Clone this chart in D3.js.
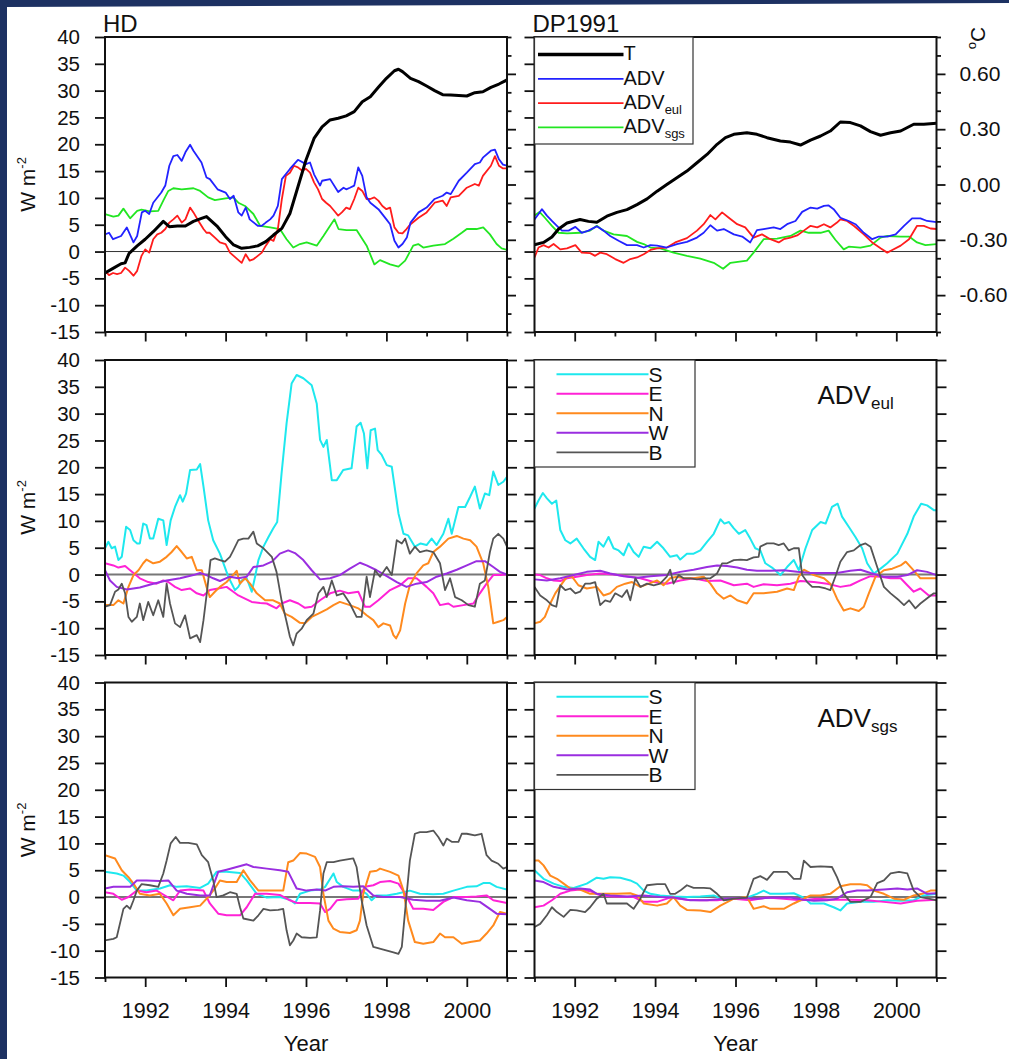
<!DOCTYPE html>
<html>
<head>
<meta charset="utf-8">
<script src="https://cdn.jsdelivr.net/npm/d3@7"></script>
<style>
  html, body { margin: 0; padding: 0; background: #fff; }
  svg { display: block; font-family: "Liberation Sans", Arial, Helvetica, sans-serif; }
</style>
</head>
<body>
<svg id="chart" width="1009" height="1059"></svg>
<script>
// ---------------------------------------------------------------------------
// Heat-budget terms, 1991-2001. Each series is a list of
// [months since January 1991, value]; fluxes in W m-2, T in degC.
// ---------------------------------------------------------------------------
const startYear = 1991;

// HD run: temperature and total / eulerian / sub-grid advection
const hdT = [[0,-0.48],[2.4,-0.455],[4.8,-0.43],[6,-0.425],[7.2,-0.373],[9.6,-0.333],[12,-0.297],[14.4,-0.256],[17.4,-0.20],[19.2,-0.229],[21.6,-0.225],[24,-0.225],[26.4,-0.20],[28.8,-0.184],[30.3,-0.174],[33.6,-0.229],[36,-0.283],[38.4,-0.328],[40.8,-0.346],[43.2,-0.341],[45.6,-0.333],[48,-0.31],[50.3,-0.274],[52.8,-0.238],[55.2,-0.157],[57.6,-0.012],[60,0.133],[62.4,0.25],[64.8,0.313],[67.2,0.35],[69.6,0.359],[72,0.372],[74.4,0.395],[76.8,0.449],[79.2,0.476],[81.6,0.527],[84,0.576],[86.4,0.617],[87.6,0.625],[88.8,0.612],[91.2,0.576],[93.6,0.558],[96,0.534],[98.4,0.509],[100.8,0.487],[103.2,0.485],[108,0.48],[110.4,0.498],[112.8,0.503],[115.2,0.527],[117.6,0.545],[120,0.567]];
const hdAdv = [[0,3.2],[1.2,3.5],[2.4,2.3],[4.8,2.9],[6.5,4.5],[8.5,1.7],[9.6,2.9],[11,7.3],[12,7.6],[13.2,7.0],[14.4,9.1],[16.8,11.0],[18,12.3],[19.2,16.0],[20.4,17.8],[21.6,18.0],[22.9,16.9],[24,18.5],[25.4,19.9],[26.4,18.8],[28.8,16.6],[30.3,13.8],[31.3,13.5],[33.6,11.6],[36,11.0],[37.3,9.8],[38.4,10.4],[39.8,7.3],[40.8,6.7],[42,8.2],[43.2,6.0],[45.6,4.8],[46.8,4.8],[48,5.4],[49.3,6.0],[50.3,6.7],[51.6,8.5],[52.8,13.5],[55.2,15.4],[57.6,17.1],[60,16.3],[61.2,16.6],[62.4,14.4],[64.2,12.3],[64.8,13.2],[67.2,13.5],[69.6,11.1],[71.2,11.9],[72,11.6],[73.1,11.9],[74.4,12.3],[75.6,15.7],[76.8,14.1],[78.1,10.1],[79.2,9.1],[81.6,7.9],[84,6.0],[85.1,5.1],[86.4,2.0],[87.6,0.75],[88.8,1.4],[90.1,2.6],[91.2,5.4],[93.6,7.3],[96,8.2],[98.4,9.8],[100.8,10.4],[102,11.0],[103.2,10.7],[105.6,13.2],[108,14.7],[110.4,16.3],[111.9,16.6],[112.8,17.5],[115.2,18.8],[116.4,19.0],[117.6,17.2],[118.8,16.2],[120,16.0]];
const hdEul = [[0,-3.6],[1.2,-4.4],[2.4,-4.0],[3.6,-4.2],[4.8,-4.0],[6,-3.0],[7.2,-3.6],[8.5,-4.5],[9.6,-3.6],[10.9,-0.8],[12,0.4],[13.2,-0.2],[14.4,2.3],[15.6,3.2],[16.8,3.5],[18,4.2],[19.2,5.4],[20.4,6.0],[21.6,6.7],[22.9,5.4],[24,6.0],[25.4,8.2],[26.4,7.3],[27.9,5.7],[29.4,4.2],[30.3,3.5],[31.2,3.5],[32.8,2.6],[34.3,1.7],[36,1.4],[37.3,-0.2],[38.4,-0.8],[39.5,-1.4],[40.8,-2.1],[42,-0.5],[43.2,-1.7],[44.4,-1.4],[45.6,-0.8],[46.8,-0.2],[48,1.1],[49.3,2.3],[50.3,2.0],[51.6,4.2],[52.8,9.8],[54,14.1],[55.2,14.7],[56.4,16.0],[57.6,15.7],[58.8,15.1],[60,15.4],[61.2,14.7],[62.4,12.9],[63.6,11.6],[64.8,9.8],[66,9.1],[67.2,8.5],[68.4,7.6],[69.6,6.7],[70.7,7.3],[72,8.2],[73.1,7.9],[74.4,9.8],[75.6,11.9],[76.8,11.3],[78.1,9.8],[79.2,9.8],[80.4,10.1],[81.6,9.5],[82.8,8.5],[84,7.9],[85.1,8.2],[86.4,4.5],[87.6,3.5],[88.8,3.4],[90,4.2],[91.2,5.1],[93.6,6.3],[96,7.3],[98.4,9.1],[100.8,9.5],[102,8.5],[103.2,10.1],[105.6,10.4],[108,11.9],[110.4,12.6],[111.6,12.3],[112.8,14.1],[115.2,16.0],[116.4,17.8],[117.6,16.0],[118.8,15.5],[120,15.5]];
const hdSgs = [[0,7.0],[2.5,6.5],[4,6.7],[5.5,8.0],[7.5,6.2],[9.6,7.6],[10.9,7.8],[13.4,7.5],[15.9,7.6],[17.4,9.5],[18.9,11.3],[20.4,11.8],[22.9,11.6],[26.4,11.8],[28.4,11.3],[30.8,10.1],[32.8,9.6],[36,9.9],[38.3,10.1],[39.8,9.1],[41.8,8.5],[44.3,7.0],[46.3,4.8],[49.3,4.5],[52.2,4.2],[54.2,2.3],[56.2,0.75],[58.2,1.4],[60.2,1.7],[63.2,1.1],[65.2,2.9],[67.2,4.8],[68.5,6.0],[69.7,4.2],[72.1,4.0],[75.1,4.0],[78.1,1.1],[80.4,-2.4],[82.1,-1.6],[85.1,-2.4],[87.6,-2.8],[89.6,-1.7],[92,1.1],[93.5,1.4],[95,0.75],[98,1.1],[101.5,1.4],[104,2.4],[106.5,3.5],[108,4.2],[110.9,4.2],[112.9,4.5],[114.9,3.2],[116.9,1.4],[118.4,0.6],[120,0.3]];

// DP1991 run
const dpT = [[0,-0.327],[2.7,-0.314],[5.2,-0.285],[7.2,-0.241],[9.7,-0.209],[13.6,-0.19],[16.1,-0.20],[18.6,-0.205],[21.6,-0.172],[24.6,-0.151],[27.6,-0.136],[30.6,-0.109],[33.6,-0.078],[36.6,-0.036],[39.5,0],[42.5,0.036],[45.5,0.073],[48.5,0.118],[51.5,0.163],[54.5,0.218],[57,0.254],[59.5,0.272],[63.4,0.281],[66.4,0.272],[69.4,0.254],[73.4,0.236],[76.4,0.23],[79.4,0.214],[82.4,0.241],[85.4,0.263],[88.3,0.29],[91.3,0.339],[94.3,0.336],[97.3,0.318],[100.3,0.287],[103.3,0.267],[106.3,0.281],[109.3,0.29],[113.2,0.327],[116.2,0.327],[120,0.332]];
const dpAdv = [[0,6.0],[1.2,7.0],[2.2,7.9],[3.7,6.7],[5.2,5.7],[6.7,4.8],[8.2,3.9],[10.2,3.9],[12.2,4.6],[14.1,3.5],[16.1,3.9],[18.6,4.7],[20.6,3.9],[22.6,2.9],[25.1,2.0],[27.6,1.2],[30.6,1.2],[32.6,0.75],[34.6,1.2],[36.6,1.1],[39.5,0.75],[42.5,1.4],[45.5,1.8],[48.5,2.6],[50.5,3.5],[52.5,4.9],[54.5,3.9],[56.5,4.2],[59.5,3.2],[62,2.8],[64.4,1.7],[66.4,4.0],[68.4,4.2],[71.4,4.5],[73.4,4.2],[75.4,5.1],[77.9,5.7],[79.9,7.4],[82.4,8.2],[84.4,8.0],[86.4,8.5],[87.8,8.6],[89.3,7.9],[91.3,6.3],[93.8,5.7],[95.8,5.1],[98.3,3.5],[100.8,2.3],[102.8,2.8],[105.3,2.8],[107.8,3.2],[110.3,4.8],[112.7,6.2],[115.2,6.2],[117.2,5.7],[120,5.5]];
const dpEul = [[0,-1.1],[1.2,0.75],[2.7,1.2],[4.2,0.75],[5.7,1.4],[7.7,0.4],[9.7,0.6],[12.2,1.2],[14.1,-0.2],[16.6,-0.3],[18.1,-0.8],[19.6,-0.2],[21.6,-0.5],[24.1,-1.4],[26.6,-2.1],[28.6,-1.4],[30.6,-1.1],[32.6,-0.5],[34.6,0.3],[36.6,0.6],[39.5,0.75],[42,1.7],[45.5,2.5],[48.5,3.9],[50.5,5.1],[52.5,6.8],[54,6.0],[56,7.3],[58,6.3],[60.5,5.1],[62.9,4.5],[65.4,2.6],[67.9,3.2],[70.4,2.3],[72.9,1.7],[74.4,2.3],[76.4,2.6],[78.4,3.0],[80.4,3.9],[82.4,4.8],[84.4,4.5],[86.4,5.1],[88.3,4.5],[90.3,5.4],[91.3,6.0],[93.3,5.7],[95.3,4.8],[98.3,3.2],[100.8,1.7],[103.3,0.6],[105.3,-0.2],[106.8,0.3],[109.3,1.1],[111.8,2.3],[114.2,4.8],[116.2,4.8],[118.2,4.3],[120,4.2]];
const dpSgs = [[0,6.7],[1.5,7.4],[3.1,6.3],[5.2,4.8],[7.2,3.5],[9.7,3.4],[13.6,3.5],[16.6,3.9],[18.6,4.8],[20.6,3.9],[23.6,3.2],[27.6,2.9],[30.6,1.8],[32.6,1.4],[34.6,0.75],[37.5,0.6],[41.5,-0.2],[45.5,-0.8],[49.5,-1.3],[53.5,-2.1],[56.3,-3.2],[58.5,-2.1],[63.4,-1.7],[65.4,-0.2],[68.4,2.3],[72.4,2.4],[76.4,2.9],[79.4,3.9],[81.9,3.5],[85.4,3.5],[87.8,3.9],[89.8,2.2],[92.3,0.4],[93.8,0.9],[97.3,0.75],[100.3,1.1],[103.3,2.6],[105.3,2.9],[109.3,2.8],[111.8,2.8],[114.2,1.7],[116.7,1.2],[120,1.4]];

// HD eulerian advection through the S, E, N, W faces and the bottom B
const hdEulS = [[0,4.9],[1,6.1],[2,4.9],[3,5.2],[4,2.7],[5,3.3],[6.3,8.9],[7.5,8.3],[8.5,6.4],[9.6,5.8],[10.4,5.8],[11.4,9.5],[12.4,9.2],[13.4,6.7],[14.4,6.7],[15.9,10.4],[17.4,10.1],[18.4,5.5],[19.6,10.1],[20.9,12.6],[22.4,14.8],[23.2,13.6],[24.2,15.1],[25.4,19.5],[27.4,19.6],[28.4,20.6],[29.4,16.4],[30.8,10.1],[32.3,6.4],[34.3,3.9],[36.8,-0.4],[38.8,-2.9],[39.8,-2.3],[40.8,-1.1],[42.3,-0.7],[43.8,-3.2],[44.8,-0.4],[45.8,2.7],[47.3,5.2],[48.8,7.0],[50.2,8.6],[51.4,9.8],[52.7,18.8],[54.2,28.2],[55.7,35.6],[57.2,37.2],[59.2,36.6],[61.7,35.3],[63.2,31.9],[64.2,25.1],[65.2,23.8],[66.2,25.1],[67.7,17.6],[69.2,17.6],[71.1,19.5],[73.6,19.8],[75.1,27.6],[76.3,28.3],[77.3,26.3],[78.3,19.8],[79.3,26.9],[80.6,27.2],[81.4,23.2],[82.6,22.3],[84.1,20.4],[85.6,20.1],[87.6,11.4],[89.1,7.6],[90.5,7.3],[92.5,5.2],[94.2,5.8],[96,5.5],[97.5,6.7],[99,5.5],[101,7.6],[102.5,10.4],[103.5,7.6],[105.5,12.6],[107.5,12.6],[109,14.5],[110.4,16.4],[111.9,12.3],[113.4,15.1],[114.7,14.8],[115.9,19.2],[117.4,16.7],[118.9,17.3],[120,18.2]];
const hdEulE = [[0,2.1],[2.5,1.7],[4,1.3],[6,1.6],[7.5,0.8],[10.4,-0.7],[12.9,-1.4],[15.4,-1.7],[17.4,-1.1],[18.9,-1.4],[20.9,-2.3],[22.9,-2.9],[25.4,-2.6],[27.4,-3.5],[29.4,-3.9],[31.3,-2.9],[33.8,-2.6],[36.3,-2.3],[38.3,-3.2],[39.8,-3.9],[41.8,-4.5],[43.8,-5.1],[46.3,-5.3],[48.3,-5.4],[51.2,-6.3],[52.7,-5.4],[55.2,-4.8],[57.7,-5.4],[59.7,-6.2],[61.7,-6.0],[64.2,-4.8],[67.2,-3.5],[70.1,-3.0],[72.6,-3.5],[75.6,-3.2],[77.6,-6.0],[79.1,-6.0],[81.6,-4.8],[85.1,-2.9],[88.1,-2.0],[90.5,-0.7],[93,-0.7],[96,-2.3],[98,-3.5],[100,-5.7],[102.5,-5.4],[104,-6.0],[107,-5.7],[110,-5.4],[111.9,-3.5],[113.9,-1.7],[115.9,-0.1],[117.9,-0.1],[120,0]];
const hdEulN = [[0,-5.7],[2.5,-5.7],[4,-4.8],[5.5,-5.4],[7,-2.3],[8.5,-0.1],[10,0.8],[11.4,2.1],[12.4,2.8],[14.4,2.1],[16.4,2.4],[18.4,3.3],[19.9,4.2],[21.4,5.3],[22.9,4.2],[24.4,3.0],[25.9,3.3],[27.4,0.8],[28.9,0.8],[30.3,-2.3],[31.3,-4.2],[32.8,-3.2],[34.3,-2.3],[36.3,-1.4],[37.8,-0.4],[39.3,0.7],[40.3,-1.7],[41.8,-0.7],[43.3,-1.7],[45.3,-3.5],[47.8,-4.8],[50.2,-4.8],[52.2,-5.4],[53.7,-7.3],[55.7,-7.9],[58.2,-9.0],[59.7,-9.1],[61.7,-7.9],[63.7,-7.3],[66.2,-6.5],[68.2,-5.7],[70.1,-5.1],[73.1,-5.7],[75.6,-6.3],[78.1,-7.6],[80.1,-8.5],[81.6,-9.8],[83.1,-9.1],[85.1,-9.5],[86.1,-11.3],[86.9,-11.9],[88.1,-10.4],[89.6,-5.4],[91,-2.0],[93,0.2],[95,1.7],[96.5,2.1],[98,4.2],[100,5.2],[102.5,6.7],[105,7.2],[107,6.7],[109,6.4],[110.9,5.2],[112.9,2.1],[114.4,-2.3],[115.9,-9.1],[117.4,-8.8],[118.9,-8.5],[120,-7.9]];
const hdEulW = [[0,0.8],[1.5,-1.1],[3.5,-2.3],[6.5,-2.8],[10.4,-2.4],[14.4,-1.7],[18.4,-1.1],[22.4,-0.7],[26.4,-0.1],[28.4,0.3],[30.3,-0.1],[32.3,-0.7],[34.3,-1.2],[37.3,-0.4],[39.8,-0.7],[42.3,-0.4],[44.3,1.4],[47.3,1.7],[49.8,2.4],[52.2,3.9],[54.7,4.5],[56.7,4.0],[59.2,2.7],[61.7,0.8],[64.2,-0.9],[67.2,-0.7],[70.1,-0.1],[73.1,1.1],[76.1,2.2],[78.1,1.7],[81.1,0.8],[84.1,-0.3],[87.1,-1.4],[90,-2.3],[93,-1.7],[96,-1.4],[99,-0.4],[102,0.2],[105,0.9],[108,1.7],[110.9,2.5],[113.4,2.5],[115.9,1.4],[117.9,0.5],[120,0]];
const hdEulB = [[0,-6.0],[1.5,-5.7],[3,-3.2],[4,-2.8],[5,-1.7],[6,-3.5],[7,-7.9],[8,-8.8],[9.5,-7.9],[10.4,-5.4],[11.4,-8.5],[12.9,-5.1],[14.4,-7.6],[15.9,-4.8],[17.4,-7.9],[18.4,-1.7],[19.4,-5.4],[20.9,-9.1],[22.4,-9.8],[23.9,-7.6],[25.4,-11.9],[27.4,-11.3],[28.4,-12.6],[29.4,-8.5],[30.5,-2.9],[31.5,2.7],[32.8,3.0],[34.3,2.7],[35.8,2.4],[37.3,3.3],[38.3,4.5],[39.8,6.4],[41.3,6.7],[42.8,6.7],[44.3,8.0],[45.3,5.8],[47.3,4.9],[49.8,3.3],[51.2,0.5],[52.7,-4.8],[54.2,-8.8],[55.2,-11.6],[56.2,-13.2],[57.2,-11.0],[58.7,-10.1],[60.2,-8.5],[62.2,-7.3],[63.7,-3.5],[65.2,-2.3],[66.2,-4.2],[67.7,-1.1],[69.2,-3.9],[71.1,-3.5],[73.1,-5.4],[75.1,-7.9],[76.6,-7.9],[78.1,-0.4],[79.1,-4.2],[80.6,0.8],[82.1,-0.4],[84.1,1.4],[85.6,-0.1],[87.1,6.4],[88.6,5.8],[89.6,6.7],[91,3.9],[92.5,5.2],[94,4.2],[96,4.5],[98,4.2],[100,2.1],[101.5,-2.9],[103,-0.7],[104.5,-4.2],[106.5,-4.8],[108.5,-5.7],[110.4,-6.0],[111.9,-1.7],[113.4,-1.1],[114.9,4.2],[115.9,6.7],[117.4,7.6],[118.9,6.7],[120,5.2]];

// DP1991 eulerian advection by face
const dpEulS = [[0,12.3],[1.2,13.8],[2.5,15.2],[3.7,14.2],[5.2,13.2],[6.5,13.8],[7.7,8.3],[9.2,6.4],[10.7,5.8],[12.6,6.7],[14.6,4.9],[16.6,3.3],[18.1,2.7],[19.1,6.1],[20.6,5.2],[22.1,7.0],[23.6,4.9],[25.1,4.5],[26.6,3.6],[28.1,5.8],[29.6,4.2],[31.1,3.3],[32.6,5.2],[34.6,4.9],[36.6,6.1],[38.5,4.9],[40.5,3.3],[42.5,3.6],[43.5,2.8],[45.5,3.9],[47.5,3.9],[49.5,4.5],[51.5,6.1],[53.5,7.6],[55.5,10.3],[56.7,9.5],[58,9.8],[59.5,8.6],[61,7.6],[62.9,8.3],[64.4,6.7],[65.9,4.9],[67.4,4.5],[68.9,2.1],[70.9,1.3],[73.4,-0.1],[75.4,1.4],[77.4,2.7],[78.9,0.8],[80.9,4.9],[82.9,8.3],[85.4,9.8],[86.9,9.5],[88.8,12.6],[90.5,13.2],[91.8,10.8],[93.8,8.9],[95.8,7.0],[97.8,4.9],[99.3,2.1],[101.3,0.2],[103.3,1.1],[105.3,2.1],[108.3,3.9],[111.3,7.6],[113.2,10.8],[115.4,13.2],[117.2,12.9],[119.2,12.0],[120,12.0]];
const dpEulE = [[0,0],[1.7,-0.1],[3.7,-0.7],[5.7,-1.1],[7.7,-1.2],[9.7,-0.7],[12.6,-0.4],[15.6,-0.1],[19.6,0.2],[23.6,0],[27.6,-0.3],[31.6,-0.7],[35.6,-1.4],[39.5,-1.7],[43.5,-1.1],[47.5,-0.7],[51.5,-1.2],[55.5,-1.1],[59.5,-2.0],[63.4,-1.7],[65.4,-2.3],[68.4,-1.8],[72.4,-2.0],[76.4,-1.7],[79.4,-1.2],[83.4,-1.4],[87.4,-1.7],[91.3,-2.3],[94.3,-2.0],[97.3,-1.1],[100.3,-0.3],[103.3,-0.4],[106.3,-0.7],[109.3,-0.7],[111.3,-2.0],[113.2,-3.2],[115.2,-2.6],[117.7,-3.9],[120,-3.9]];
const dpEulN = [[0,-9.1],[1.7,-8.8],[3.1,-7.9],[4.7,-5.4],[6.2,-3.5],[8.2,-1.7],[9.7,-0.4],[11.2,-0.4],[13.1,-2.0],[15.6,-2.6],[18.6,-2.3],[20.6,-3.9],[22.6,-3.5],[24.6,-2.3],[27.1,-1.7],[29.1,-1.4],[31.6,-2.3],[34.1,-1.7],[36.6,-1.1],[38.5,-2.0],[40.5,-0.7],[42.5,-0.4],[44.5,-0.7],[47.5,-0.7],[50.5,-0.4],[52.5,-1.7],[54.5,-3.5],[56.5,-4.5],[58.5,-3.9],[60.5,-4.8],[63.4,-5.4],[65.4,-3.5],[68.4,-3.5],[72.4,-3.2],[75.4,-2.6],[77.4,-2.9],[78.9,-0.4],[80.4,0.9],[83.4,-0.1],[86.4,-0.7],[88.3,-1.7],[90.3,-4.5],[92.3,-6.7],[94.3,-6.3],[96.8,-6.8],[98.3,-6.0],[99.8,-3.5],[101.8,-0.4],[104.3,0.8],[106.8,1.1],[109.3,1.7],[110.8,2.4],[112.7,1.1],[115.2,-0.7],[117.7,-0.7],[120,-0.7]];
const dpEulW = [[0,-0.9],[3.7,-1.1],[7.7,-0.7],[11.7,-0.1],[15.6,0.5],[19.6,0.7],[22.6,0.2],[26.6,-0.3],[30.6,-0.6],[34.6,-0.3],[39.5,-0.1],[43.5,0.5],[47.5,0.9],[51.5,1.4],[54.5,1.7],[57.5,1.6],[60.5,1.3],[63.4,0.9],[66.4,0.7],[70.4,0.7],[74.4,0.8],[78.4,0.5],[82.4,0.3],[86.4,0.3],[90.3,0.3],[94.3,0.7],[97.3,0.9],[100.3,0.3],[104.3,-0.4],[108.3,-0.4],[111.3,-0.1],[114.2,0.8],[117.2,0.5],[120,-0.1]];
const dpEulB = [[0,-2.3],[1.7,-3.9],[3.7,-4.8],[5.2,-5.7],[6.5,-6.0],[7.7,-2.0],[9.2,-2.9],[10.7,-2.6],[12.2,-3.5],[13.6,-3.2],[15.1,-1.7],[16.6,-1.7],[18.1,-1.4],[19.6,-5.7],[21.1,-4.8],[22.6,-5.1],[24.1,-3.5],[26.1,-4.2],[27.6,-2.9],[28.6,-4.8],[30.1,-0.7],[31.6,-2.3],[33.6,-1.7],[35.6,-2.0],[37.5,-1.7],[39.5,-0.4],[40.5,0.9],[41.5,-1.7],[43,-0.1],[44.5,-0.7],[46.5,-0.7],[48.5,-0.9],[50.5,-0.7],[52.5,-0.7],[54.5,0.2],[56,2.1],[57.5,2.1],[59.5,2.7],[61.5,2.8],[63.4,2.7],[65.4,3.2],[66.9,3.3],[67.4,5.2],[69.4,5.8],[71.4,5.8],[72.9,5.5],[74.4,5.8],[75.9,4.5],[77.4,4.9],[78.9,4.9],[79.9,-0.1],[81.4,-1.4],[82.9,-2.3],[84.9,-2.3],[86.9,-2.6],[88.3,-2.9],[89.8,-0.4],[91.3,2.4],[93.3,4.2],[95.3,4.5],[97.3,5.5],[98.8,5.8],[100.3,5.2],[102.3,1.4],[104.3,-2.3],[106.3,-3.5],[108.8,-4.8],[110.3,-5.7],[111.8,-4.8],[113.7,-6.3],[115.2,-5.4],[117.7,-4.2],[119.2,-3.5],[120,-3.5]];

// HD sub-grid advection by face
const hdSgsS = [[0,4.7],[3.5,4.4],[5.5,4.0],[7.5,2.8],[9.5,1.2],[12.4,1.2],[16.4,1.6],[19.4,2.2],[21.4,1.9],[24.4,2.0],[28.4,1.7],[30.8,2.5],[33.3,4.7],[36.3,4.7],[40.3,4.5],[42.3,3.1],[45.3,0.6],[48.3,-0.1],[52.2,0],[55.2,-0.5],[56.7,-1.2],[58.2,0.6],[61.2,1.2],[64.2,1.4],[65.7,1.9],[68.2,4.4],[69.2,2.8],[71.1,1.9],[74.1,1.2],[76.6,1.2],[78.1,0.6],[79.6,-0.6],[81.1,0.3],[84.1,0.3],[87.1,0.6],[91,1.2],[94,0.6],[98,0.5],[101,0.6],[104,1.2],[108,1.9],[110.9,2.0],[112.9,2.6],[114.9,2.6],[116.9,1.9],[120,1.4]];
const hdSgsE = [[0,0.9],[2.5,0.6],[5,-0.5],[7,0],[9.5,1.2],[12.4,0.9],[15.4,1.2],[18.4,0.1],[20.4,-0.6],[22.4,1.2],[25.4,1.4],[29.4,1.2],[31.3,-1.2],[33.8,-3.1],[36.3,-3.4],[40.3,-3.4],[42.3,-1.9],[44.8,0.6],[48.3,0.6],[52.2,0.4],[55.2,-0.6],[57.2,-1.1],[61.2,-1.1],[64.2,-1.2],[65.7,-2.8],[67.2,-2.2],[69.2,-0.6],[72.1,-0.4],[75.6,-0.3],[77.6,1.9],[80.1,2.2],[82.1,2.8],[85.1,3.0],[87.6,2.5],[89.6,0.6],[92,-2.2],[95,-2.2],[98,-2.4],[101,-0.9],[104,0],[108,0],[110.9,0.1],[113.9,0.3],[115.9,-0.6],[120,-1.1]];
const hdSgsN = [[0,7.8],[3,7.2],[5,5.0],[7,3.7],[8.5,2.5],[10.4,0.6],[13.4,0.3],[16.4,0.6],[18.4,-1.2],[20.4,-3.4],[22.4,-2.2],[25.4,-1.9],[28.4,-1.6],[30.8,0],[32.8,1.6],[34.3,3.1],[36.3,2.8],[39.3,2.8],[41.3,5.0],[43.3,3.1],[45.8,1.2],[48.3,1.2],[51.2,1.2],[53.2,1.2],[54.7,6.5],[56.2,6.8],[58.2,8.2],[60.2,8.1],[62.7,7.5],[64.2,5.6],[65.2,0.6],[66.7,-4.4],[68.2,-5.9],[70.1,-6.5],[73.1,-6.7],[75.1,-6.2],[76.1,-4.4],[77.1,0.6],[79.1,4.7],[81.1,4.9],[82.1,5.3],[85.1,4.7],[87.6,4.0],[89.1,1.2],[90.5,-4.4],[92.5,-8.4],[95,-8.7],[98,-8.4],[100,-6.8],[101.5,-7.5],[104,-7.5],[106.5,-8.7],[109,-8.4],[111.9,-8.1],[113.9,-6.8],[115.9,-5.3],[117.9,-2.8],[120,-3.1]];
const hdSgsW = [[0,1.6],[2.5,1.9],[5.5,1.9],[7.5,1.9],[9.5,3.1],[12.4,3.1],[16.4,3.0],[18.9,3.1],[21.4,1.2],[24.4,0.6],[28.4,0.3],[31.3,0.3],[33.8,4.7],[36.3,5.1],[39.3,5.6],[42.3,6.1],[44.3,5.6],[48.3,5.3],[52.2,5.0],[54.7,4.7],[57.2,1.6],[60.2,1.2],[63.2,1.4],[65.7,1.2],[68.2,1.9],[71.1,2.0],[74.1,1.9],[77.1,2.0],[80.1,0.3],[83.1,0],[88.1,0],[92,-0.5],[96,-0.7],[100,-0.7],[104,-0.1],[108,-0.6],[111.9,-0.9],[114.9,-2.2],[116.9,-3.1],[120,-3.2]];
const hdSgsB = [[0,-8.1],[2.5,-7.8],[3.5,-7.5],[5.5,-2.2],[6.5,-1.6],[7.5,-2.2],[8.5,-0.6],[9.5,1.2],[10.9,2.4],[13.4,2.2],[15.9,1.9],[17.4,4.4],[18.4,6.8],[19.6,10.0],[21.1,11.2],[22.4,10.1],[24.9,10.1],[27.4,9.8],[28.9,7.8],[30.8,6.5],[32.3,3.1],[33.3,0],[35.3,0.3],[37.3,0.9],[39.3,0.6],[40.3,-1.9],[41.3,-4.0],[44.3,-4.4],[45.8,-3.4],[47.3,-2.2],[49.3,-2.5],[51.7,-2.4],[53.2,-2.2],[54.2,-6.2],[55.2,-9.0],[56.2,-8.1],[57.2,-6.8],[58.7,-7.5],[61.2,-7.6],[63.2,-7.5],[64.2,-2.5],[65.2,4.4],[66.2,6.5],[68.2,6.5],[70.1,6.8],[74.1,7.2],[75.1,5.6],[76.6,-0.6],[78.1,-5.3],[80.1,-9.3],[83.1,-9.8],[86.1,-10.3],[87.6,-10.6],[88.6,-9.3],[89.6,-2.5],[91,6.8],[92.5,11.8],[94,12.1],[96,12.1],[98,12.4],[99.5,11.2],[101,9.6],[102,10.9],[103.5,10.3],[105.5,10.3],[106.5,11.8],[108,11.8],[110.4,11.5],[112.4,11.8],[113.9,7.8],[115.4,6.8],[117.4,6.2],[118.9,5.3],[120,5.6]];

// DP1991 sub-grid advection by face
const dpSgsS = [[0,5.0],[2.7,3.4],[5.7,2.5],[8.7,1.9],[11.7,1.7],[15.6,2.5],[18.6,3.6],[20.6,3.4],[22.6,3.7],[25.6,3.6],[28.6,3.1],[30.6,2.5],[32.6,1.2],[34.6,0.6],[37.5,0.3],[41.5,0.1],[45.5,0],[49.5,0.1],[53.5,0.3],[56.5,-0.5],[59.5,-0.3],[63.4,-0.1],[66.4,0.6],[68.4,1.2],[70.4,0.6],[74.4,0.6],[77.4,0.7],[80.4,-0.1],[82.4,-1.2],[86.4,-1.2],[89.3,-1.9],[91.3,-2.5],[93.3,-1.2],[97.3,-0.9],[101.3,-0.9],[105.3,-0.6],[109.3,-0.7],[113.2,-0.6],[116.2,0.3],[120,0.6]];
const dpSgsE = [[0,-1.9],[2.7,-1.6],[5.2,-0.6],[7.7,0.6],[10.7,1.2],[13.6,1.4],[16.6,1.1],[19.6,0.3],[23.6,0.1],[29.6,0],[32.6,-0.9],[36.6,-0.9],[40.5,-0.1],[45.5,-0.5],[49.5,-0.6],[54.5,-0.6],[59.5,-0.3],[64.4,-0.6],[69.4,-0.1],[74.4,-0.3],[79.4,-0.6],[84.4,-0.3],[89.3,-0.5],[94.3,-0.5],[99.3,-0.6],[104.3,-0.9],[109.3,-1.2],[114.2,-0.7],[120,-0.5]];
const dpSgsN = [[0,6.8],[1.2,6.8],[2.7,5.9],[4.7,4.0],[6.7,3.4],[8.7,2.5],[10.7,1.6],[13.6,1.4],[16.6,0.6],[20.6,0.6],[24.6,0.6],[28.6,0.7],[30.6,0.3],[32.6,-1.2],[36.6,-1.6],[39.5,-1.2],[41.5,0],[43.5,-1.6],[45.5,-2.4],[49.5,-2.5],[52.5,-2.8],[55.5,-1.6],[59.5,-0.3],[63.4,0],[65.4,-2.2],[68.4,-1.7],[70.4,-2.2],[74.4,-2.2],[77.4,-1.2],[79.4,-0.6],[82.4,0.3],[85.4,0.3],[88.3,0.6],[91.3,2.0],[94.3,2.4],[97.3,2.4],[99.3,2.2],[101.3,1.2],[104.3,0.6],[107.3,-0.3],[110.3,-0.5],[113.2,0.3],[115.7,0.6],[118.2,1.2],[120,1.2]];
const dpSgsW = [[0,3.1],[2.7,2.8],[5.7,1.9],[9.7,1.4],[13.6,1.6],[16.6,1.4],[18.6,0.6],[22.6,0.3],[27.6,0.1],[32.6,0.3],[37.5,0],[41.5,-0.1],[46.5,-0.6],[51.5,-0.6],[56.5,-0.3],[61.5,-0.2],[66.4,-0.3],[71.4,-0.1],[76.4,-0.1],[80.4,-0.5],[83.4,-0.7],[87.4,-0.6],[90.3,-0.3],[93.3,0.9],[96.3,1.2],[99.3,1.2],[104.3,1.4],[108.3,1.6],[111.3,1.4],[114.2,1.6],[117.2,0.6],[120,0.7]];
const dpSgsB = [[0,-5.6],[1.7,-5.0],[3.7,-3.4],[5.2,-1.9],[6.7,-2.8],[8.7,-3.7],[10.7,-2.4],[12.6,-2.5],[15.1,-2.8],[16.6,-1.9],[18.6,-0.3],[20.6,0.6],[21.6,-1.2],[24.6,-1.2],[27.6,-1.2],[29.6,-2.2],[31.6,-0.3],[33.6,2.2],[36.6,2.4],[39,2.4],[40.5,0.6],[42,0.6],[43.5,1.2],[45.5,2.2],[47.5,1.7],[50.5,1.7],[52.5,1.6],[54.5,0.6],[56.5,-0.6],[59.5,-0.3],[63.4,-0.1],[65.4,3.4],[67.4,3.9],[69.4,3.2],[71.4,4.7],[75.4,4.7],[77.4,3.4],[79.4,3.4],[80.4,6.8],[82.4,5.6],[85.4,5.7],[88.8,5.6],[90.3,3.7],[92.3,0.6],[94.3,-0.9],[97.3,-0.9],[100.3,0],[102.3,2.6],[104.3,3.1],[106.3,4.4],[108.8,4.7],[111.3,4.4],[113.2,1.2],[115.2,0],[117.7,-0.3],[120,-0.6]];

// Axis ticks and labels
const fluxTicks = [-15, -10, -5, 0, 5, 10, 15, 20, 25, 30, 35, 40];
const tempMajor = [-0.6, -0.3, 0, 0.3, 0.6];
const tempMinor = [-0.8, -0.7, -0.5, -0.4, -0.2, -0.1, 0.1, 0.2, 0.4, 0.5, 0.7, 0.8];
const yearMajor = [1992, 1994, 1996, 1998, 2000];
const yearMinor = [1991, 1993, 1995, 1997, 1999, 2001];
const runTitles = ["HD", "DP1991"];
const faceNames = ["S", "E", "N", "W", "B"];

// Colours
const cT = "#000000", cAdv = "#2222ff", cEul = "#ff1c1c", cSgs = "#22e622";
const faceColors = ["#1ee8ee", "#ff22d6", "#ff8a1e", "#9a2ee0", "#555555"];

// Layout
const W = 1009, H = 1059;
const panelW = 402, panelH = 295;
const colX = [105, 534.5];
const rowY = [37, 360, 682.5];
const fontStack = '"Liberation Sans", Arial, Helvetica, sans-serif';

const svg = d3.select("#chart");
svg.append("rect").attr("width", W).attr("height", H).attr("fill", "#ffffff");
// dark page border on the top and left
svg.append("polygon")
  .attr("points", `0,0 ${W},0 ${W},3 7,7 7,${H} 0,${H}`)
  .attr("fill", "#1d3162");

const x = d3.scaleLinear().domain([startYear, startYear + 10]).range([0, panelW]);
const yFlux = d3.scaleLinear().domain([-15, 40]).range([panelH, 0]);
const yTemp = d3.scaleLinear().domain([-0.8, 0.8]).range([panelH, 0]);

const faceSet = (arrs) => arrs.map((d, i) => ({ data: d, color: faceColors[i], width: i === 4 ? 1.8 : 2 }));

const panels = [
  { row: 0, col: 0, lines: [
      { data: hdSgs, color: cSgs, width: 1.8 }, { data: hdEul, color: cEul, width: 1.8 },
      { data: hdAdv, color: cAdv, width: 1.8 }, { data: hdT, color: cT, width: 3, temp: true } ] },
  { row: 0, col: 1, lines: [
      { data: dpSgs, color: cSgs, width: 1.8 }, { data: dpEul, color: cEul, width: 1.8 },
      { data: dpAdv, color: cAdv, width: 1.8 }, { data: dpT, color: cT, width: 3, temp: true } ] },
  { row: 1, col: 0, lines: faceSet([hdEulS, hdEulE, hdEulN, hdEulW, hdEulB]) },
  { row: 1, col: 1, lines: faceSet([dpEulS, dpEulE, dpEulN, dpEulW, dpEulB]) },
  { row: 2, col: 0, lines: faceSet([hdSgsS, hdSgsE, hdSgsN, hdSgsW, hdSgsB]) },
  { row: 2, col: 1, lines: faceSet([dpSgsS, dpSgsE, dpSgsN, dpSgsW, dpSgsB]) }
];

function styleAxis(sel, size) {
  sel.attr("font-family", fontStack).attr("font-size", size);
  sel.select(".domain").remove();
  sel.selectAll(".tick line").attr("stroke", "#111").attr("stroke-width", 1.8);
  sel.selectAll(".tick text").attr("fill", "#111");
}

panels.forEach(p => {
  const g = svg.append("g").attr("transform", `translate(${colX[p.col]},${rowY[p.row]})`);
  const clipId = `clip-${p.row}-${p.col}`;
  g.append("clipPath").attr("id", clipId)
    .append("rect").attr("width", panelW).attr("height", panelH);

  // zero reference line
  g.append("line")
    .attr("x1", 0).attr("x2", panelW)
    .attr("y1", yFlux(0)).attr("y2", yFlux(0))
    .attr("stroke", p.row === 0 ? "#333" : "#777")
    .attr("stroke-width", p.row === 0 ? 1 : 2);

  const plot = g.append("g").attr("clip-path", `url(#${clipId})`);
  p.lines.forEach(s => {
    const ys = s.temp ? yTemp : yFlux;
    plot.append("path")
      .datum(s.data)
      .attr("fill", "none")
      .attr("stroke", s.color)
      .attr("stroke-width", s.width)
      .attr("stroke-linejoin", "round")
      .attr("d", d3.line().x(d => x(startYear + d[0] / 12)).y(d => ys(d[1])));
  });

  // left flux axis
  g.append("g")
    .call(d3.axisLeft(yFlux).tickValues(fluxTicks).tickSize(10).tickPadding(15)
      .tickFormat(p.col === 0 ? (d => String(d)) : (() => "")))
    .call(a => styleAxis(a, 20.5));

  // right axis: temperature on the top row, flux below
  if (p.row === 0) {
    g.append("g").attr("transform", `translate(${panelW},0)`)
      .call(d3.axisRight(yTemp).tickValues(tempMinor).tickSize(4.5).tickFormat(() => ""))
      .call(a => styleAxis(a, 21));
    g.append("g").attr("transform", `translate(${panelW},0)`)
      .call(d3.axisRight(yTemp).tickValues(tempMajor).tickSize(9).tickPadding(14)
        .tickFormat(p.col === 1 ? (d => d.toFixed(2)) : (() => "")))
      .call(a => styleAxis(a, 21));
  } else {
    g.append("g").attr("transform", `translate(${panelW},0)`)
      .call(d3.axisRight(yFlux).tickValues(fluxTicks).tickSize(10).tickFormat(() => ""))
      .call(a => styleAxis(a, 20));
  }

  // bottom year axis
  g.append("g").attr("transform", `translate(0,${panelH})`)
    .call(d3.axisBottom(x).tickValues(yearMinor).tickSize(4.5).tickFormat(() => ""))
    .call(a => styleAxis(a, 21.5));
  g.append("g").attr("transform", `translate(0,${panelH})`)
    .call(d3.axisBottom(x).tickValues(yearMajor).tickSize(9.5).tickPadding(16)
      .tickFormat(p.row === 2 ? (d => String(d)) : (() => "")))
    .call(a => styleAxis(a, 21.5));

  // frame
  g.append("rect")
    .attr("width", panelW).attr("height", panelH)
    .attr("fill", "none").attr("stroke", "#111").attr("stroke-width", 2);

  // y-axis title on the left column
  if (p.col === 0) {
    const t = svg.append("text")
      .attr("transform", `translate(35,${rowY[p.row] + panelH / 2}) rotate(-90)`)
      .attr("text-anchor", "middle")
      .attr("font-family", fontStack).attr("font-size", 21).attr("fill", "#111");
    t.append("tspan").text("W m");
    t.append("tspan").attr("font-size", 13).attr("dy", -9).text("-2");
  }
});

// column titles
runTitles.forEach((name, i) => {
  svg.append("text")
    .attr("x", colX[i] - 2).attr("y", 31.5)
    .attr("font-family", fontStack).attr("font-size", 24).attr("fill", "#111")
    .text(name);
  svg.append("text")
    .attr("x", colX[i] + panelW / 2).attr("y", 1051)
    .attr("text-anchor", "middle")
    .attr("font-family", fontStack).attr("font-size", 22).attr("fill", "#111")
    .text("Year");
});

// temperature unit on the right
{
  const t = svg.append("text")
    .attr("transform", `translate(985,38) rotate(-90)`)
    .attr("text-anchor", "middle")
    .attr("font-family", fontStack).attr("fill", "#111");
  t.append("tspan").attr("font-size", 13).attr("dy", -9).text("o");
  t.append("tspan").attr("font-size", 21).attr("dy", 9).text("C");
}

// text with an optional subscript
function labelWithSub(sel, main, sub, size, subSize, subShift) {
  sel.append("tspan").attr("font-size", size).text(main);
  if (sub) sel.append("tspan").attr("font-size", subSize).attr("dy", subShift).text(sub);
}

// legend of the top row
{
  const entries = [
    { main: "T", sub: "", color: cT, width: 3.5 },
    { main: "ADV", sub: "", color: cAdv, width: 1.8 },
    { main: "ADV", sub: "eul", color: cEul, width: 1.8 },
    { main: "ADV", sub: "sgs", color: cSgs, width: 1.8 }
  ];
  const lg = svg.append("g").attr("transform", `translate(${colX[1]},${rowY[0]})`);
  lg.append("rect").attr("width", 158.5).attr("height", 107)
    .attr("fill", "#fff").attr("stroke", "#333").attr("stroke-width", 1.2);
  entries.forEach((e, i) => {
    const yy = 17.5 + i * 24.3;
    lg.append("line").attr("x1", 3.5).attr("x2", 89).attr("y1", yy).attr("y2", yy)
      .attr("stroke", e.color).attr("stroke-width", e.width);
    const t = lg.append("text").attr("x", 89).attr("y", yy).attr("dy", "0.36em")
      .attr("font-family", fontStack).attr("fill", "#111");
    labelWithSub(t, e.main, e.sub, 20, 13, 5);
  });
}

// face legends and term annotation for the lower rows
[["ADV", "eul"], ["ADV", "sgs"]].forEach((term, k) => {
  const row = k + 1;
  const lg = svg.append("g").attr("transform", `translate(${colX[1]},${rowY[row]})`);
  lg.append("rect").attr("width", 160.5).attr("height", 107)
    .attr("fill", "#fff").attr("stroke", "#333").attr("stroke-width", 1.2);
  faceNames.forEach((name, i) => {
    const yy = 14.3 + i * 19.5;
    lg.append("line").attr("x1", 22).attr("x2", 114).attr("y1", yy).attr("y2", yy)
      .attr("stroke", faceColors[i]).attr("stroke-width", i === 4 ? 1.8 : 2);
    lg.append("text").attr("x", 114).attr("y", yy).attr("dy", "0.36em")
      .attr("font-family", fontStack).attr("font-size", 21).attr("fill", "#111")
      .text(name);
  });
  const t = lg.append("text").attr("x", 283).attr("y", 44)
    .attr("font-family", fontStack).attr("fill", "#111");
  labelWithSub(t, term[0], term[1], 26, 17, 5);
});
</script>
</body>
</html>
